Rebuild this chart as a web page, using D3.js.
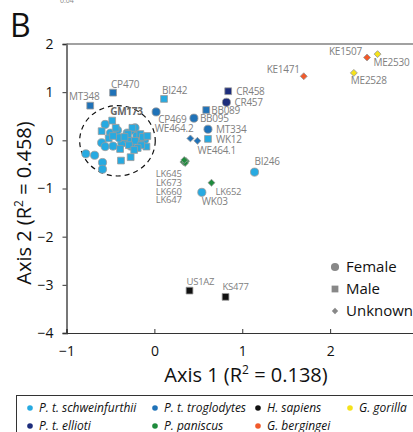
<!DOCTYPE html>
<html>
<head>
<meta charset="utf-8">
<script src="https://cdn.jsdelivr.net/npm/d3@7"></script>
<style>
  body { margin: 0; background: #fff; }
  svg { display: block; font-family: "Open Sans", "Noto Sans", sans-serif; }
</style>
</head>
<body>
<script>
// chart size
var width = 413,
    height = 432;

// species names and their colours (legend order)
var species = ["P. t. schweinfurthii", "P. t. troglodytes", "H. sapiens", "G. gorilla",
               "P. t. ellioti", "P. paniscus", "G. bergingei"];
var speciesColors = ["#27aae1", "#1f72b8", "#111111", "#f5e21b",
                     "#1d2d7c", "#1e8b3c", "#f15a2b"];

var sexes = ["Female", "Male", "Unknown"];

// axis ticks
var xTicks = [-1, 0, 1, 2, 3];
var yTicks = [-4, -3, -2, -1, 0, 1, 2];

// labelled specimens: id, species, sex, axis 1, axis 2
var specimens = [
  ["MT348",   "P. t. troglodytes",   "Male",    -0.73,  0.72],
  ["CP470",   "P. t. troglodytes",   "Male",    -0.47,  0.99],
  ["BI242",   "P. t. schweinfurthii","Male",     0.11,  0.86],
  ["CP469",   "P. t. troglodytes",   "Female",   0.02,  0.59],
  ["CR458",   "P. t. ellioti",       "Male",     0.84,  1.02],
  ["CR457",   "P. t. ellioti",       "Female",   0.82,  0.79],
  ["BB089",   "P. t. troglodytes",   "Male",     0.59,  0.63],
  ["BB095",   "P. t. troglodytes",   "Female",   0.45,  0.46],
  ["MT334",   "P. t. troglodytes",   "Female",   0.61,  0.23],
  ["WK12",    "P. t. schweinfurthii","Male",     0.61,  0.03],
  ["WE464.2", "P. t. troglodytes",   "Unknown",  0.41,  0.04],
  ["WE464.1", "P. t. troglodytes",   "Unknown",  0.49, -0.01],
  ["BI246",   "P. t. schweinfurthii","Female",   1.14, -0.66],
  ["KE1471",  "G. bergingei",        "Unknown",  1.70,  1.33],
  ["KE1507",  "G. bergingei",        "Unknown",  2.42,  1.72],
  ["ME2530",  "G. gorilla",          "Unknown",  2.54,  1.79],
  ["ME2528",  "G. gorilla",          "Unknown",  2.27,  1.40],
  ["LK645",   "P. paniscus",         "Unknown",  0.33, -0.45],
  ["LK673",   "P. paniscus",         "Unknown",  0.36, -0.43],
  ["LK660",   "P. paniscus",         "Unknown",  0.35, -0.47],
  ["LK647",   "P. paniscus",         "Unknown",  0.34, -0.41],
  ["LK652",   "P. paniscus",         "Unknown",  0.65, -0.88],
  ["WK03",    "P. t. schweinfurthii","Female",   0.54, -1.08],
  ["US1AZ",   "H. sapiens",          "Male",     0.40, -3.12],
  ["KS477",   "H. sapiens",          "Male",     0.81, -3.25],
  ["GM173",   "P. t. schweinfurthii","Male",    -0.48,  0.41]
];

// unlabelled P. t. schweinfurthii cluster: [axis 1, axis 2]
var clusterFemale = [
  [-0.78, -0.28], [-0.68, -0.31], [-0.59, -0.46], [-0.59, -0.60], [-0.56, 0.33],
  [-0.60, -0.05], [-0.56, -0.13], [-0.47, -0.12], [-0.50, 0.15], [-0.42, 0.21],
  [-0.31, 0.15], [-0.37, -0.06], [-0.24, 0.21], [-0.20, 0.09], [-0.30, 0.01],
  [-0.16, -0.04], [-0.27, -0.12], [-0.11, 0.01], [-0.40, 0.05], [-0.22, 0.26]
];
var clusterMale = [
  [-0.60, 0.19], [-0.52, 0.04], [-0.38, -0.42], [-0.27, -0.35], [-0.25, 0.26],
  [-0.09, -0.13], [-0.47, 0.09], [-0.30, 0.13], [-0.16, 0.13], [-0.13, 0.07],
  [-0.22, -0.01], [-0.15, -0.10], [-0.29, -0.10], [-0.34, 0.07], [-0.19, -0.16],
  [-0.08, 0.09], [-0.23, -0.20], [-0.39, -0.18], [-0.44, 0.26]
];

// dashed ellipse round the cluster: centre and radii in axis units
var clusterEllipse = { cx: -0.42, cy: -0.01, rx: 0.43, ry: 0.73 };

// label placement (pixel offsets from the mark)
var labelPos = {
  "MT348":   { dx: -6,  dy: -6,  anchor: "middle" },
  "CP470":   { dx: -2,  dy: -5,  anchor: "start" },
  "BI242":   { dx: -2,  dy: -5,  anchor: "start" },
  "CP469":   { dx: 2,   dy: 11,  anchor: "start" },
  "CR458":   { dx: 8,   dy: 4,   anchor: "start" },
  "CR457":   { dx: 8,   dy: 4,   anchor: "start" },
  "BB089":   { dx: 5,   dy: 4,   anchor: "start" },
  "BB095":   { dx: 6,   dy: 4,   anchor: "start" },
  "MT334":   { dx: 8,   dy: 4,   anchor: "start" },
  "WK12":    { dx: 8,   dy: 4,   anchor: "start" },
  "WE464.2": { dx: 3,   dy: -6,  anchor: "end" },
  "WE464.1": { dx: 0,   dy: 13,  anchor: "start" },
  "BI246":   { dx: 0,   dy: -7,  anchor: "start" },
  "KE1471":  { dx: -4,  dy: -3,  anchor: "end" },
  "KE1507":  { dx: -5,  dy: -2,  anchor: "end" },
  "ME2530":  { dx: -4,  dy: 12,  anchor: "start" },
  "ME2528":  { dx: -3,  dy: 11,  anchor: "start" },
  "LK645":   { dx: -1.7, dy: 15.3, anchor: "end" },
  "LK673":   { dx: -4.3, dy: 25,   anchor: "end" },
  "LK660":   { dx: -3.5, dy: 31.7, anchor: "end" },
  "LK647":   { dx: -2.6, dy: 42.9, anchor: "end" },
  "LK652":   { dx: 4,   dy: 12,  anchor: "start" },
  "WK03":    { dx: 0,   dy: 13,  anchor: "start" },
  "US1AZ":   { dx: -3,  dy: -6,  anchor: "start" },
  "KS477":   { dx: -3,  dy: -7,  anchor: "start" },
  "GM173":   { dx: -2,  dy: -6,  anchor: "start" }
};

var color = d3.scaleOrdinal().domain(species).range(speciesColors);

// plot scales
var x = d3.scaleLinear().domain([-1, 3]).range([66.5, 418]);
var y = d3.scaleLinear().domain([-4, 2]).range([333, 44]);

var svg = d3.select("body").append("svg")
  .attr("width", width)
  .attr("height", height);

// marker shapes
function markerPath(sex) {
  if (sex === "Female") return d3.symbol(d3.symbolCircle, 52)();
  if (sex === "Male") return d3.symbol(d3.symbolSquare, 46)();
  return d3.symbol(d3.symbolSquare, 24)();
}
function markerTransform(sex, px, py) {
  return "translate(" + px + "," + py + ")" + (sex === "Unknown" ? " rotate(45)" : "");
}

// panel letter and the cropped text above it
svg.append("text").attr("x", 60).attr("y", 3).attr("font-size", 7).attr("fill", "#888").text("0.04");
svg.append("text").attr("x", 10).attr("y", 37).attr("font-size", 32).attr("fill", "#111").text("B");

// top frame line
svg.append("line")
  .attr("x1", x(-1)).attr("x2", width)
  .attr("y1", y(2)).attr("y2", y(2))
  .attr("stroke", "#444").attr("stroke-width", 1.2);

// axes
var yAxis = svg.append("g")
  .attr("transform", "translate(" + x(-1) + ",0)")
  .call(d3.axisLeft(y).tickValues(yTicks).tickSize(4).tickPadding(9).tickFormat(d3.format("d")));
yAxis.select(".domain").attr("stroke", "#777").attr("stroke-width", 2);
yAxis.selectAll(".tick line").attr("stroke", "#333");
yAxis.selectAll("text").attr("font-size", 14).attr("fill", "#111")
  .attr("font-family", "'Open Sans', sans-serif");

var xAxis = svg.append("g")
  .attr("transform", "translate(0," + y(-4) + ")")
  .call(d3.axisBottom(x).tickValues(xTicks).tickSize(-4).tickPadding(13).tickFormat(d3.format("d")));
xAxis.select(".domain").attr("stroke", "#333").attr("stroke-width", 1.2);
xAxis.selectAll(".tick line").attr("stroke", "#333");
xAxis.selectAll("text").attr("font-size", 14).attr("fill", "#111")
  .attr("font-family", "'Open Sans', sans-serif");

// axis titles
var xt = svg.append("text")
  .attr("x", 246).attr("y", 382)
  .attr("text-anchor", "middle").attr("font-size", 20).attr("fill", "#111");
xt.append("tspan").text("Axis 1 (R");
xt.append("tspan").attr("font-size", 12).attr("dy", -8).text("2");
xt.append("tspan").attr("dy", 8).text(" = 0.138)");

var yt = svg.append("text")
  .attr("transform", "translate(31,203) rotate(-90)")
  .attr("text-anchor", "middle").attr("font-size", 20).attr("fill", "#111");
yt.append("tspan").text("Axis 2 (R");
yt.append("tspan").attr("font-size", 12).attr("dy", -8).text("2");
yt.append("tspan").attr("dy", 8).text(" = 0.458)");

// dashed ellipse
svg.append("ellipse")
  .attr("cx", x(clusterEllipse.cx))
  .attr("cy", y(clusterEllipse.cy))
  .attr("rx", x(clusterEllipse.cx + clusterEllipse.rx) - x(clusterEllipse.cx))
  .attr("ry", y(clusterEllipse.cy - clusterEllipse.ry) - y(clusterEllipse.cy))
  .attr("fill", "none").attr("stroke", "#111")
  .attr("stroke-width", 1.2).attr("stroke-dasharray", "5,4");

// cluster marks
var cluster = clusterFemale.map(function(d) { return { sex: "Female", a1: d[0], a2: d[1] }; })
  .concat(clusterMale.map(function(d) { return { sex: "Male", a1: d[0], a2: d[1] }; }));

svg.append("g").selectAll("path")
  .data(cluster)
  .enter().append("path")
  .attr("d", function(d) { return markerPath(d.sex); })
  .attr("transform", function(d) { return markerTransform(d.sex, x(d.a1), y(d.a2)); })
  .attr("fill", color("P. t. schweinfurthii"))
  .attr("stroke", "#9a9a9a").attr("stroke-width", 0.8);

// labelled marks
var pts = specimens.map(function(d) {
  return { id: d[0], sp: d[1], sex: d[2], a1: d[3], a2: d[4] };
});

svg.append("g").selectAll("path")
  .data(pts)
  .enter().append("path")
  .attr("d", function(d) { return markerPath(d.sex); })
  .attr("transform", function(d) { return markerTransform(d.sex, x(d.a1), y(d.a2)); })
  .attr("fill", function(d) { return color(d.sp); })
  .attr("stroke", "#9a9a9a").attr("stroke-width", 0.8);

svg.append("g").selectAll("text")
  .data(pts)
  .enter().append("text")
  .attr("x", function(d) { return x(d.a1) + labelPos[d.id].dx; })
  .attr("y", function(d) { return y(d.a2) + labelPos[d.id].dy; })
  .attr("text-anchor", function(d) { return labelPos[d.id].anchor; })
  .attr("font-size", function(d) { return d.sp === "H. sapiens" || d.sp === "P. paniscus" ? 9.5 : 10; })
  .attr("letter-spacing", -0.25)
  .attr("font-weight", function(d) { return d.id === "GM173" ? "bold" : "normal"; })
  .attr("fill", function(d) { return d.id === "GM173" ? "#666" : "#808080"; })
  .text(function(d) { return d.id; });

// sex legend
var sexLegend = svg.append("g").selectAll("g")
  .data(sexes)
  .enter().append("g")
  .attr("transform", function(d, i) { return "translate(335," + (267 + i * 22) + ")"; });
sexLegend.append("path")
  .attr("d", function(d) { return d === "Unknown" ? d3.symbol(d3.symbolSquare, 20)() : markerPath(d); })
  .attr("transform", function(d) { return d === "Unknown" ? "rotate(45)" : null; })
  .attr("fill", "#888");
sexLegend.append("text")
  .attr("x", 11).attr("y", 5)
  .attr("font-size", 15).attr("fill", "#111")
  .text(function(d) { return d; });

// species legend box
svg.append("rect")
  .attr("x", 16.5).attr("y", 395.5)
  .attr("width", 420).attr("height", 60)
  .attr("fill", "none").attr("stroke", "#333").attr("stroke-width", 1);

var colX = [30, 155, 258, 350];
var spLegend = svg.append("g").selectAll("g")
  .data(species)
  .enter().append("g")
  .attr("transform", function(d, i) {
    return "translate(" + colX[i % 4] + "," + (408 + Math.floor(i / 4) * 18) + ")";
  });
spLegend.append("circle")
  .attr("r", 2.8)
  .attr("fill", function(d) { return color(d); });
spLegend.append("text")
  .attr("x", 9).attr("y", 4)
  .attr("font-size", 12).attr("font-style", "italic").attr("fill", "#111")
  .text(function(d) { return d; });
</script>
</body>
</html>
